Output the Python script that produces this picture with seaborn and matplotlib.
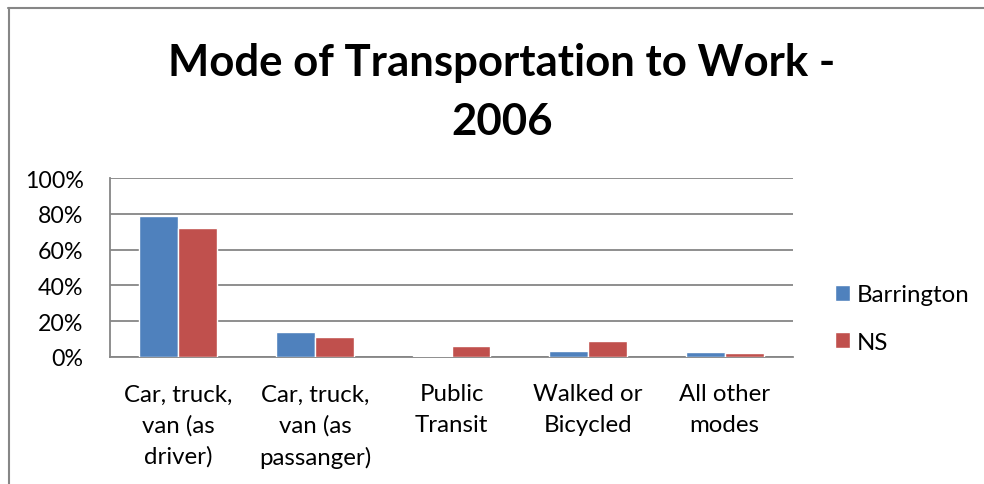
import matplotlib
matplotlib.use("Agg")
import matplotlib.pyplot as plt
from matplotlib.lines import Line2D
from matplotlib.ticker import PercentFormatter
import seaborn as sns
import pandas as pd

# data
modes = ["Car, truck,\nvan (as\ndriver)", "Car, truck,\nvan (as\npassanger)",
         "Public\nTransit", "Walked or\nBicycled", "All other\nmodes"]
barrington = [0.79, 0.14, 0.005, 0.031, 0.029]
ns = [0.72, 0.112, 0.061, 0.091, 0.02]

df = pd.DataFrame({
    "mode": modes * 2,
    "share": barrington + ns,
    "area": ["Barrington"] * len(modes) + ["NS"] * len(modes),
})

sns.set_style("white")
plt.rcParams['font.family'] = ['Lato', 'DejaVu Sans']
plt.rcParams['text.color'] = 'black'

W, H = 984, 485
fig = plt.figure(figsize=(W / 100, H / 100), dpi=100)
ax = fig.add_axes([110 / W, (H - 358) / H, 683 / W, 179 / H])

grey = "#868686"
sns.barplot(data=df, x="mode", y="share", hue="area",
            palette=["#4F81BD", "#C0504D"], saturation=1, width=0.57,
            ax=ax, zorder=3)

ax.set_ylim(0, 1)
ax.set_yticks([0, 0.2, 0.4, 0.6, 0.8, 1.0])
ax.yaxis.set_major_formatter(PercentFormatter(1, decimals=0))
ax.yaxis.grid(True, color=grey, lw=1.3, zorder=0)
ax.set_axisbelow(True)
ax.set_xlabel("")
ax.set_ylabel("")

for s in ["top", "right"]:
    ax.spines[s].set_visible(False)
for s in ["left", "bottom"]:
    ax.spines[s].set_color(grey)
    ax.spines[s].set_linewidth(1.3)

ax.tick_params(axis="y", length=0, pad=19, labelsize=16.7, labelcolor="black")
ax.tick_params(axis="x", length=0, pad=19, labelsize=17.3, labelcolor="black")
for t in ax.get_xticklabels():
    t.set_linespacing(1.55)

ax.legend(loc="center left", bbox_to_anchor=(835 / W, 1 - 319.5 / H),
          bbox_transform=fig.transFigure, frameon=False, fontsize=17.3,
          handlelength=0.62, handleheight=0.62, handletextpad=0.3,
          labelspacing=1.09, borderpad=0, borderaxespad=0)

fig.text(502 / W, 1 - 43 / H, "Mode of Transportation to Work -\n2006",
         ha="center", va="top", fontsize=31.5, fontweight="bold",
         color="black", linespacing=1.57)

# outer chart border (only top and left edges visible in the crop)
fig.add_artist(Line2D([8 / W, 1], [1 - 8.5 / H, 1 - 8.5 / H],
                      transform=fig.transFigure, color=grey, lw=1.5))
fig.add_artist(Line2D([8.5 / W, 8.5 / W], [0, 1 - 8.5 / H],
                      transform=fig.transFigure, color=grey, lw=1.5))

fig.savefig("out.png", dpi=100)
